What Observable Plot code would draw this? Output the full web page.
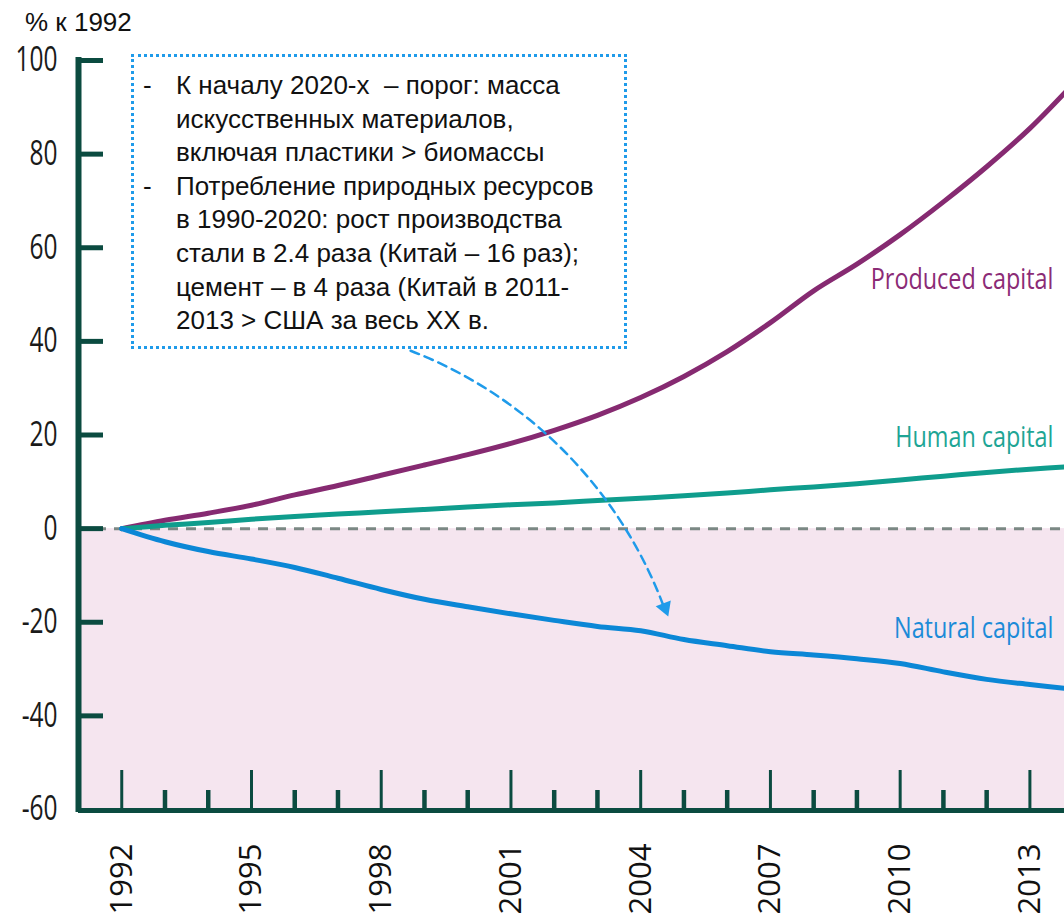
<!DOCTYPE html>
<html><head><meta charset="utf-8">
<script src="https://cdn.jsdelivr.net/npm/d3@7"></script>
<script src="https://cdn.jsdelivr.net/npm/@observablehq/plot@0.6"></script>
<style>
body{margin:0;background:#fff;}
#wrap{position:relative;width:1064px;height:920px;overflow:hidden;}
#title{position:absolute;left:25px;top:8px;font:26px "Liberation Sans",Arial,sans-serif;color:#111;line-height:1.15;}
#note{position:absolute;left:131px;top:54px;width:496px;height:295px;box-sizing:border-box;border:3px dotted #1f9bea;padding:12px 0 0 9px;font:26px "Liberation Sans",Arial,sans-serif;line-height:33.6px;color:#111;background:#fff;white-space:nowrap;}
.item{display:flex;}
.dash{width:33px;flex:none;}
</style></head><body>
<div id="wrap">
<div id="chart"></div>
<div id="title">% к 1992</div>
<div id="note">
<div class="item"><span class="dash">-</span><span>К началу 2020-х&nbsp; – порог: масса<br>искусственных материалов,<br>включая пластики &gt; биомассы</span></div>
<div class="item"><span class="dash">-</span><span>Потребление природных ресурсов<br>в 1990-2020: рост производства<br>стали в 2.4 раза (Китай – 16 раз);<br>цемент – в 4 раза (Китай в 2011-<br>2013 &gt; США за весь XX в.</span></div>
</div>
</div>
<script>
const years = [1992,1993,1994,1995,1996,1997,1998,1999,2000,2001,2002,2003,2004,2005,2006,2007,2008,2009,2010,2011,2012,2013,2014];
const producedCapital = [0,1.8,3.3,5.0,7.2,9.2,11.4,13.6,15.8,18.2,21.0,24.2,28.0,32.5,37.8,44.0,50.8,56.5,62.8,69.8,77.3,85.5,95.0];
const humanCapital   = [0,0.7,1.3,2.0,2.6,3.1,3.6,4.1,4.6,5.1,5.5,6.0,6.5,7.0,7.6,8.3,8.9,9.6,10.4,11.2,12.0,12.7,13.3];
const naturalCapital = [0,-2.8,-4.9,-6.5,-8.3,-10.6,-13.0,-15.1,-16.7,-18.2,-19.6,-20.9,-21.8,-23.7,-25.0,-26.3,-27.0,-27.8,-28.8,-30.6,-32.2,-33.3,-34.3];
const seriesNames = ["Produced capital","Human capital","Natural capital"];
const seriesColors = ["#862a71","#0f9d8d","#0b87d6"];
const labelColors = ["#8b2b76","#1ea595","#1c8bd8"];
const labelY = [53.2, 19.4, -21.4];
const majorYears = [1992,1995,1998,2001,2004,2007,2010,2013];
const minorYears = [1993,1994,1996,1997,1999,2000,2002,2003,2005,2006,2008,2009,2011,2012];
const yTicks = [100,80,60,40,20,0,-20,-40];
const yTickLabels = [100,80,60,40,20,0,-20,-40,-60];
const xDomain = [1991, 2013.8];
const yDomain = [-60, 100];
const arrowPath = [{x1: 1998.68, y1: 38.0, x2: 2004.51, y2: -16.1}];
const arrowHead = [{x: 2004.56, y: -16.9}];

const axisColor = "#0b4b40";
const accent = "#1f9bea";

const series = [producedCapital, humanCapital, naturalCapital];
const data = seriesNames.flatMap((s, k) => years.map((yr, i) => ({year: yr, value: series[k][i], series: s})));
const negRegion = [{x1: xDomain[0], x2: xDomain[1], y1: yDomain[0], y2: 0}];

const chart = Plot.plot({
  width: 1064, height: 920,
  marginTop: 60, marginBottom: 111, marginLeft: 78, marginRight: 0,
  x: {domain: xDomain, axis: null},
  y: {domain: yDomain, axis: null},
  color: {domain: seriesNames, range: seriesColors},
  style: {background: "transparent", overflow: "visible"},
  marks: [
    Plot.rect(negRegion, {x1: "x1", x2: "x2", y1: "y1", y2: "y2", fill: "#f5e5ef"}),
    Plot.ruleY([0], {stroke: "#7b8884", strokeWidth: 3, strokeDasharray: "10,8"}),
    Plot.line(data, {x: "year", y: "value", z: "series", stroke: "series", strokeWidth: 5, curve: "catmull-rom", clip: true}),
    Plot.arrow(arrowPath, {x1: "x1", y1: "y1", x2: "x2", y2: "y2", bend: 24, headLength: 0, stroke: accent, strokeWidth: 2.5, strokeDasharray: "9,6"}),
    Plot.dot(arrowHead, {x: "x", y: "y", symbol: "triangle", r: 6, fill: accent, stroke: null, rotate: 159}),
    ...seriesNames.map((s, i) => Plot.text([s], {y: [labelY[i]], text: d => d, frameAnchor: "right", textAnchor: "end", dx: -11, fill: labelColors[i], fontSize: 30, fontFamily: "Open Sans"})),
    Plot.ruleY([yDomain[0]], {stroke: axisColor, strokeWidth: 5, dy: 1}),
    Plot.ruleX([xDomain[0]], {y1: yDomain[0], y2: yDomain[1], stroke: axisColor, strokeWidth: 6, strokeLinecap: "square"}),
    Plot.axisX({ticks: majorYears, tickSize: -39, strokeWidth: 3, stroke: axisColor, tickFormat: () => "", label: null}),
    Plot.axisX({ticks: minorYears, tickSize: -19, strokeWidth: 4.5, stroke: axisColor, tickFormat: () => "", label: null}),
    Plot.axisX({ticks: majorYears, tickSize: 0, tickRotate: -90, tickPadding: 34, fontSize: 31, fontFamily: "Open Sans", fill: "#111", tickFormat: d => String(d), label: null}),
    Plot.axisY({ticks: yTicks, tickSize: -25, strokeWidth: 5, stroke: axisColor, tickFormat: () => "", label: null}),
    Plot.axisY({ticks: yTickLabels, tickSize: 0, tickPadding: 21, fontSize: 34, fontFamily: "Open Sans", fill: "#1a1a1a", tickFormat: d => String(d), label: null})
  ]
});
document.getElementById("chart").appendChild(chart);

function squeeze(sel, k) {
  chart.querySelectorAll(sel).forEach(t => {
    const tr = t.getAttribute("transform") || "";
    t.setAttribute("transform", tr + ` scale(${k},1)`);
  });
}
squeeze('g[aria-label="y-axis tick label"] text', 0.72);
squeeze('g[aria-label="text"] text', 0.78);
</script>
</body></html>
